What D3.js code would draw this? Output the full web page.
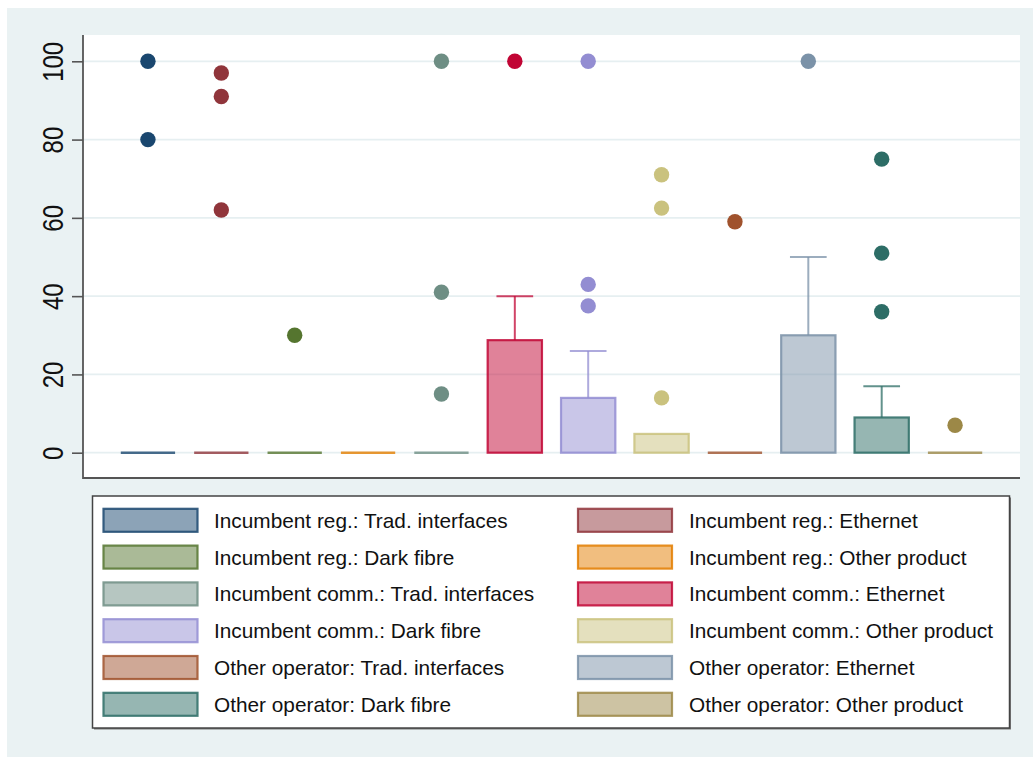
<!DOCTYPE html>
<html><head><meta charset="utf-8">
<script src="https://cdn.jsdelivr.net/npm/d3@7"></script>
<style>body{margin:0;background:#fff;}svg{display:block;}</style>
</head><body>
<script>
const categories = [
  "Incumbent reg.: Trad. interfaces","Incumbent reg.: Ethernet",
  "Incumbent reg.: Dark fibre","Incumbent reg.: Other product",
  "Incumbent comm.: Trad. interfaces","Incumbent comm.: Ethernet",
  "Incumbent comm.: Dark fibre","Incumbent comm.: Other product",
  "Other operator: Trad. interfaces","Other operator: Ethernet",
  "Other operator: Dark fibre","Other operator: Other product"];
const colors = ["#1a476f","#90353b","#55752f","#e37e00","#6e8e84","#c10534",
  "#938dd2","#cac27e","#a0522d","#7b92a8","#2d6d66","#9c8847"];
const q1 = [0,0,0,0,0,0,0,0,0,0,0,0];
const median = [0,0,0,0,0,0,0,0,0,0,0,0];
const q3 = [0,0,0,0,0,28.75,14,4.8,0,30,9,0];
const whiskerLow = [0,0,0,0,0,0,0,0,0,0,0,0];
const whiskerHigh = [0,0,0,0,0,40,26,4.8,0,50,17,0];
const outliers = [[100,80],[97,91,62],[30],[],[100,41,15],[100],[100,43,37.5],
  [71,62.5,14],[59],[100],[75,51,36],[7]];
const yTicks = [0,20,40,60,80,100];

const W=1033,H=758;
const svg=d3.select("body").append("svg").attr("width",W).attr("height",H);
const bg="#eaf2f3";
svg.append("rect").attr("x",7).attr("y",8).attr("width",W-7).attr("height",749).attr("fill",bg);

const pl=83, pr=1020, pt=35, pb=478;
svg.append("rect").attr("x",pl).attr("y",pt).attr("width",pr-pl).attr("height",pb-pt).attr("fill","#fff");

const y=d3.scaleLinear().domain([0,100]).range([452.7,61.3]);
const x=d3.scalePoint().domain(categories).range([pl,pr]).padding(0.885);
const step=x.step(), bw=step*0.74, cap=step*0.5;

// grid
svg.append("g").selectAll("line").data(yTicks).join("line")
  .attr("x1",pl).attr("x2",pr).attr("y1",d=>y(d)).attr("y2",d=>y(d))
  .attr("stroke","#e6eff1").attr("stroke-width",1.8);

// y axis
const ya=svg.append("g").attr("transform",`translate(${pl},0)`)
  .call(d3.axisLeft(y).tickValues(yTicks).tickSize(11).tickPadding(0).tickFormat(d3.format("d")));
ya.select(".domain").remove();
ya.selectAll(".tick line").attr("stroke","#555").attr("stroke-width",1.6);
ya.selectAll(".tick text").attr("x",null).attr("dy",null)
  .attr("text-anchor","middle").attr("dominant-baseline","central")
  .attr("transform","translate(-30,0) rotate(-90) scale(1,1.2)")
  .attr("font-family","Liberation Sans, Arial, sans-serif").attr("font-size",24).attr("fill","#111");
svg.append("line").attr("x1",pl).attr("x2",pl).attr("y1",pt).attr("y2",pb+1).attr("stroke","#555").attr("stroke-width",1.8);
svg.append("line").attr("x1",pl).attr("x2",pr).attr("y1",pb).attr("y2",pb).attr("stroke","#555").attr("stroke-width",1.8);

// boxes
const g=svg.append("g");
categories.forEach((c,i)=>{
  const cx=x(c), col=colors[i];
  if(whiskerHigh[i]>q3[i]){
    g.append("line").attr("x1",cx).attr("x2",cx).attr("y1",y(q3[i])).attr("y2",y(whiskerHigh[i]))
      .attr("stroke",col).attr("stroke-opacity",0.75).attr("stroke-width",2);
    g.append("line").attr("x1",cx-cap/2).attr("x2",cx+cap/2).attr("y1",y(whiskerHigh[i])).attr("y2",y(whiskerHigh[i]))
      .attr("stroke",col).attr("stroke-opacity",0.75).attr("stroke-width",2);
  }
  if(q3[i]>q1[i]){
    g.append("rect").attr("x",cx-bw/2).attr("y",y(q3[i])).attr("width",bw).attr("height",y(q1[i])-y(q3[i]))
      .attr("fill",col).attr("fill-opacity",0.5).attr("stroke",col).attr("stroke-opacity",0.85).attr("stroke-width",2.2);
  } else {
    g.append("line").attr("x1",cx-bw/2).attr("x2",cx+bw/2).attr("y1",y(median[i])).attr("y2",y(median[i]))
      .attr("stroke",col).attr("stroke-opacity",0.8).attr("stroke-width",2.6);
  }
  g.selectAll(null).data(outliers[i]).join("circle")
    .attr("cx",cx).attr("cy",d=>y(d)).attr("r",7.7).attr("fill",col);
});

// legend
svg.append("rect").attr("x",94).attr("y",497.5).attr("width",917).attr("height",232).attr("fill","#777");
svg.append("rect").attr("x",92.5).attr("y",496).attr("width",917).attr("height",232)
  .attr("fill","#fff").attr("stroke","#444").attr("stroke-width",1.5);
const rowY=d3.scalePoint().domain(d3.range(6)).range([520.3,704.3]);
categories.forEach((c,i)=>{
  const row=Math.floor(i/2), colIdx=i%2;
  const sx=colIdx?578:103.5, tx=colIdx?689:214;
  const cy=rowY(row);
  svg.append("rect").attr("x",sx).attr("y",cy-11.5).attr("width",94).attr("height",23)
    .attr("fill",colors[i]).attr("fill-opacity",0.5).attr("stroke",colors[i]).attr("stroke-opacity",0.85).attr("stroke-width",2.2);
  svg.append("text").attr("x",tx).attr("y",cy).attr("dominant-baseline","central")
    .attr("font-family","Liberation Sans, Arial, sans-serif").attr("font-size",20.8).attr("fill","#111").text(c);
});
</script>
</body></html>
